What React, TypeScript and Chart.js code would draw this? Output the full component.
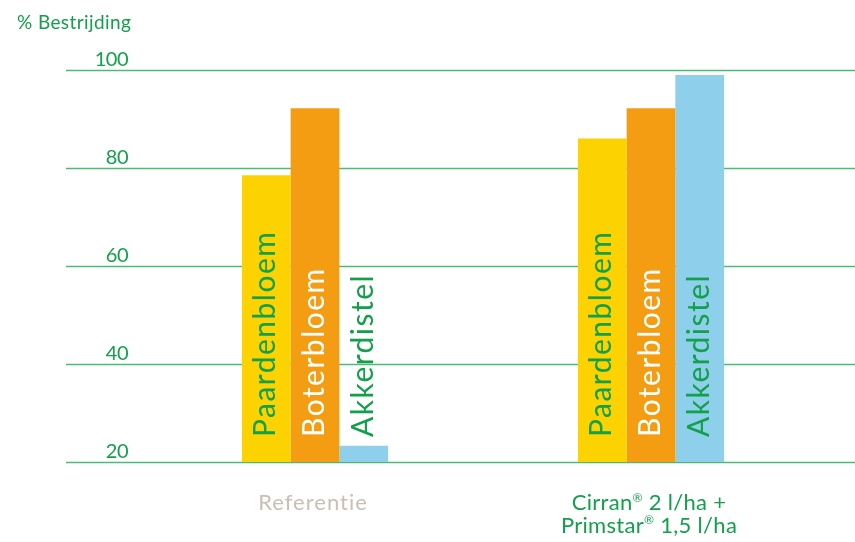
import React, { useEffect, useRef } from "react";
import { Chart, registerables } from "chart.js";

Chart.register(...registerables);

const categories: (string | string[])[] = ["Referentie", ["Cirran® 2 l/ha +", "Primstar® 1,5 l/ha"]];
const categoryColors = ["#c9bfb4", "#12a04b"];
const seriesNames = ["Paardenbloem", "Boterbloem", "Akkerdistel"];
const paardenbloem = [78.5, 86];
const boterbloem = [92.2, 92.2];
const akkerdistel = [23.3, 99];
const yTicks = [20, 40, 60, 80, 100];
const yTitle = "% Bestrijding";

const seriesColors = ["#fcd200", "#f49c12", "#8ecfec"];
const seriesTextColors = ["#12a04b", "#ffffff", "#12a04b"];
const GREEN = "#12a04b";
const GRID = "#4cba73";
const FONT = "Lato, 'Open Sans', sans-serif";

function drawRich(ctx: any, text: string, cx: number, baseline: number, size: number, spacing: number) {
  const parts = text.split(/(®)/).filter((p) => p.length > 0);
  const small = Math.round(size * 0.55);
  ctx.letterSpacing = `${spacing}px`;
  const widths = parts.map((p) => {
    ctx.font = `${p === "®" ? small : size}px ${FONT}`;
    return ctx.measureText(p).width;
  });
  const total = widths.reduce((a, b) => a + b, 0);
  let x = cx - total / 2;
  ctx.textAlign = "left";
  ctx.textBaseline = "alphabetic";
  parts.forEach((p, i) => {
    const sup = p === "®";
    ctx.font = `${sup ? small : size}px ${FONT}`;
    ctx.fillText(p, x, sup ? baseline - size * 0.38 : baseline);
    x += widths[i];
  });
  ctx.letterSpacing = "0px";
}

const overlay = {
  id: "overlay",
  beforeDatasetsDraw(chart: any) {
    const { ctx } = chart;
    const y = chart.scales.y;
    ctx.save();
    ctx.strokeStyle = GRID;
    ctx.lineWidth = 1.6;
    ctx.fillStyle = GREEN;
    ctx.font = `20px ${FONT}`;
    ctx.textAlign = "right";
    ctx.textBaseline = "alphabetic";
    ctx.letterSpacing = "-0.5px";
    y.ticks.forEach((t: any) => {
      const py = Math.round(y.getPixelForValue(t.value)) + 0.5;
      ctx.beginPath();
      ctx.moveTo(66, py);
      ctx.lineTo(855, py);
      ctx.stroke();
      ctx.fillText(String(t.value), 128, py - 5);
    });
    ctx.textAlign = "left";
    ctx.letterSpacing = "0.4px";
    ctx.font = `19px ${FONT}`;
    ctx.fillText(yTitle, 17, 29);
    ctx.letterSpacing = "0px";
    ctx.restore();
  },
  afterDatasetsDraw(chart: any) {
    const { ctx } = chart;
    const y = chart.scales.y;
    const x = chart.scales.x;
    const base = y.getPixelForValue(yTicks[0]);
    ctx.save();
    chart.data.datasets.forEach((ds: any, di: number) => {
      const meta = chart.getDatasetMeta(di);
      meta.data.forEach((bar: any) => {
        ctx.save();
        ctx.translate(bar.x + 9, base - 25);
        ctx.rotate(-Math.PI / 2);
        ctx.font = `30px ${FONT}`;
        ctx.letterSpacing = "1.5px";
        ctx.fillStyle = seriesTextColors[di];
        ctx.textAlign = "left";
        ctx.textBaseline = "alphabetic";
        ctx.fillText(ds.label, 0, 0);
        ctx.restore();
      });
    });
    categories.forEach((c, i) => {
      const px = x.getPixelForValue(i);
      const lines = Array.isArray(c) ? c : [c];
      ctx.fillStyle = categoryColors[i];
      const spacing = lines.length > 1 ? 0.3 : 1.0;
      lines.forEach((l, li) => drawRich(ctx, l, px - 2, 510 + li * 22.5, 22, spacing));
    });
    ctx.restore();
  },
};

export default function App() {
  const ref = useRef<HTMLCanvasElement>(null);
  useEffect(() => {
    document.body.style.margin = "0";
    const chart = new Chart(ref.current!, {
      type: "bar",
      data: {
        labels: categories as any,
        datasets: [paardenbloem, boterbloem, akkerdistel].map((d, i) => ({
          label: seriesNames[i],
          data: d,
          backgroundColor: seriesColors[i],
          borderWidth: 0,
          barPercentage: 1,
          categoryPercentage: 0.435,
        })),
      },
      options: {
        animation: false,
        responsive: false,
        maintainAspectRatio: false,
        layout: { padding: { left: 147, right: 36, top: 70, bottom: 80 } },
        plugins: { legend: { display: false }, tooltip: { enabled: false } },
        scales: {
          x: { display: false },
          y: {
            display: false,
            min: yTicks[0],
            max: yTicks[yTicks.length - 1],
            ticks: { stepSize: 20 },
          },
        },
      },
      plugins: [overlay],
    });
    return () => chart.destroy();
  }, []);
  return <canvas ref={ref} width={855} height={542} style={{ display: "block" }} />;
}
